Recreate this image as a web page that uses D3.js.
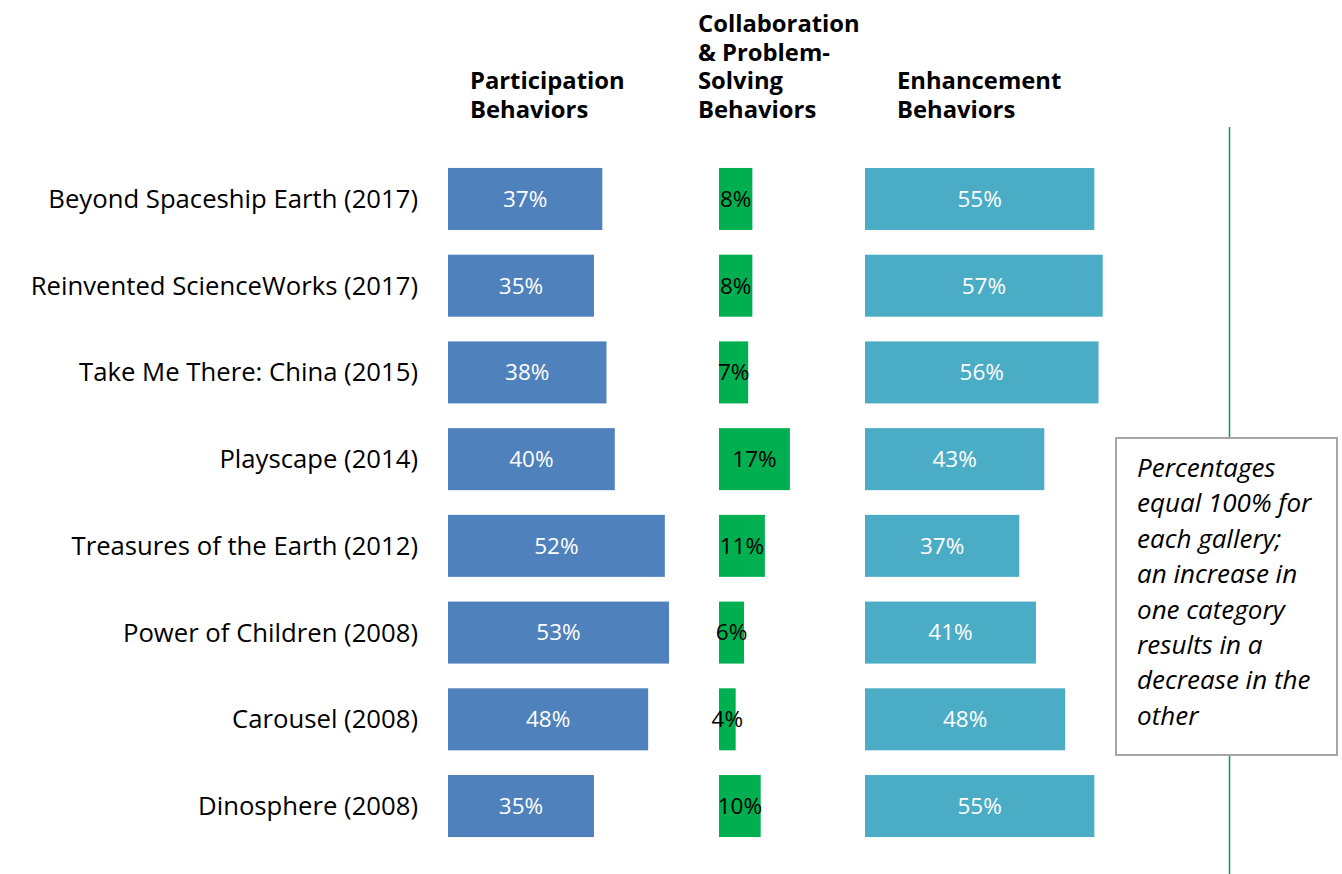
<!DOCTYPE html>
<html>
<head>
<meta charset="utf-8">
<script src="https://cdn.jsdelivr.net/npm/d3@7"></script>
<style>
  body { margin: 0; background: #fff; }
  text { font-family: "Open Sans", Lato, sans-serif; }
</style>
</head>
<body>
<div class="chart"></div>
<script>
var svgWidth = 1342;
var svgHeight = 874;

// data
var galleries = [
  "Beyond Spaceship Earth (2017)",
  "Reinvented ScienceWorks (2017)",
  "Take Me There: China (2015)",
  "Playscape (2014)",
  "Treasures of the Earth (2012)",
  "Power of Children (2008)",
  "Carousel (2008)",
  "Dinosphere (2008)"
];
var participation = [37, 35, 38, 40, 52, 53, 48, 35];
var collaboration = [8, 8, 7, 17, 11, 6, 4, 10];
var enhancement = [55, 57, 56, 43, 37, 41, 48, 55];

var headers = [
  ["Participation", "Behaviors"],
  ["Collaboration", "& Problem-", "Solving", "Behaviors"],
  ["Enhancement", "Behaviors"]
];
var note = ["Percentages", "equal 100% for", "each gallery;", "an increase in",
  "one category", "results in a", "decrease in the", "other"];

var svg = d3.select(".chart")
  .append("svg")
  .attr("width", svgWidth)
  .attr("height", svgHeight);

// rows
var yScale = d3.scaleBand()
  .domain(galleries)
  .range([155.6, 849.4])
  .paddingInner(0.285)
  .paddingOuter(0.1425);

// same px per percent for each panel
var xScale = d3.scaleLinear().domain([0, 100]).range([0, 417]);

var panels = [
  { values: participation, x0: 448, fill: "#4f81bd", textFill: "#fff", hx: 470 },
  { values: collaboration, x0: 719, fill: "#00b050", textFill: "#000", hx: 698 },
  { values: enhancement, x0: 865, fill: "#4bacc6", textFill: "#fff", hx: 897 }
];

// divider line on the right
svg.append("line")
  .attr("x1", 1229.5).attr("x2", 1229.5)
  .attr("y1", 127).attr("y2", 874)
  .attr("stroke", "#00a05a")
  .attr("stroke-width", 1.5);

// category labels
svg.append("g")
  .selectAll("text")
  .data(galleries)
  .enter()
  .append("text")
  .attr("x", 418)
  .attr("y", d => yScale(d) + yScale.bandwidth() / 2)
  .attr("dy", "0.35em")
  .attr("text-anchor", "end")
  .attr("font-size", 25.7)
  .attr("fill", "#000")
  .text(d => d);

panels.forEach(function(p, i) {
  var g = svg.append("g").attr("transform", `translate(${p.x0}, 0)`);

  g.selectAll("rect")
    .data(p.values)
    .enter()
    .append("rect")
    .attr("x", 0)
    .attr("y", (d, j) => yScale(galleries[j]))
    .attr("width", d => xScale(d))
    .attr("height", yScale.bandwidth())
    .attr("fill", p.fill);

  g.selectAll(".val")
    .data(p.values)
    .enter()
    .append("text")
    .attr("class", "val")
    .attr("x", d => xScale(d) / 2)
    .attr("y", (d, j) => yScale(galleries[j]) + yScale.bandwidth() / 2)
    .attr("dy", "0.35em")
    .attr("text-anchor", "middle")
    .attr("font-size", 22.5)
    .attr("fill", p.textFill)
    .text(d => d + "%");

  // column header, bottom aligned
  var lines = headers[i];
  svg.append("g")
    .selectAll("text")
    .data(lines)
    .enter()
    .append("text")
    .attr("x", p.hx)
    .attr("y", (d, j) => 118 - (lines.length - 1 - j) * 28.7)
    .attr("font-size", 23.8)
    .attr("font-weight", "bold")
    .attr("fill", "#000")
    .text(d => d);
});

// note box
svg.append("rect")
  .attr("x", 1116)
  .attr("y", 438)
  .attr("width", 221)
  .attr("height", 317)
  .attr("fill", "#fff")
  .attr("stroke", "#a6a6a6")
  .attr("stroke-width", 2);

svg.append("g")
  .selectAll("text")
  .data(note)
  .enter()
  .append("text")
  .attr("x", 1137)
  .attr("y", (d, j) => 477 + j * 35.4)
  .attr("font-size", 26)
  .attr("font-style", "italic")
  .attr("fill", "#000")
  .text(d => d);
</script>
</body>
</html>
